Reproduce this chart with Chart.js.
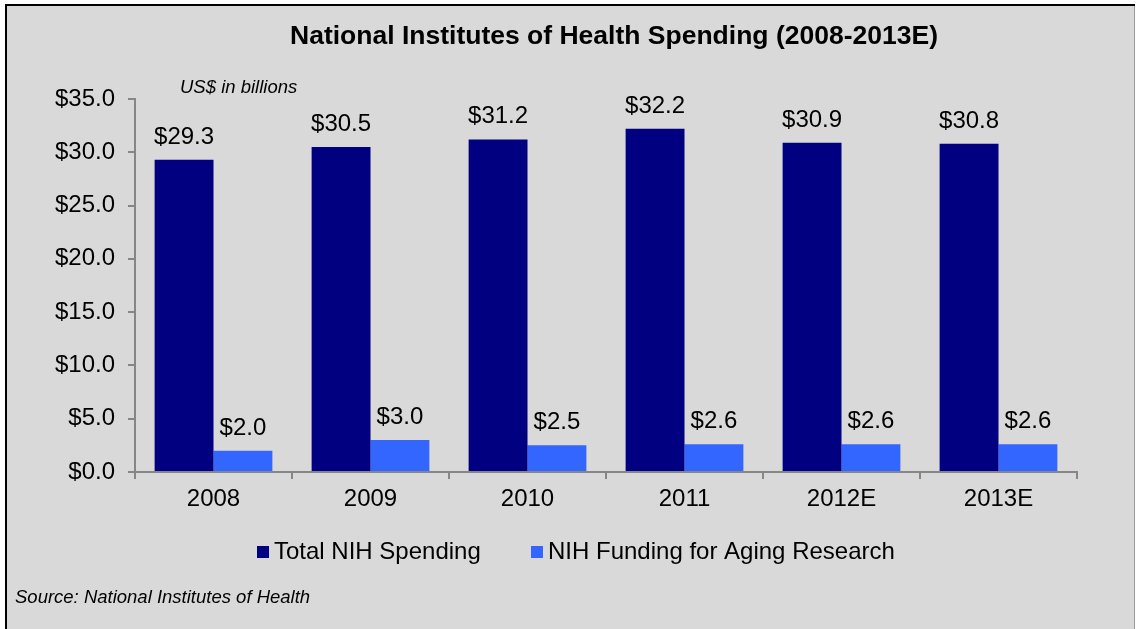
<!DOCTYPE html>
<html>
<head>
<meta charset="utf-8">
<script src="https://cdn.jsdelivr.net/npm/chart.js@4"></script>
<style>
html,body{margin:0;padding:0;background:#fff;}
#wrap{position:relative;width:1136px;height:629px;}
</style>
</head>
<body>
<div id="wrap"><canvas id="c" width="1136" height="629"></canvas></div>
<script>
const categories = ["2008", "2009", "2010", "2011", "2012E", "2013E"];
const totalNIH = [29.3, 30.5, 31.2, 32.2, 30.9, 30.8];
const agingNIH = [2.0, 3.0, 2.5, 2.6, 2.6, 2.6];
const seriesNames = ["Total NIH Spending", "NIH Funding for Aging Research"];
const seriesColors = ["#000080", "#3366FF"];
const yTicks = [0, 5, 10, 15, 20, 25, 30, 35];
const titleText = "National Institutes of Health Spending (2008-2013E)";
const unitText = "US$ in billions";
const sourceText = "Source: National Institutes of Health";

const FONT = '"Liberation Sans", Arial, Helvetica, sans-serif';

const frame = {
  id: 'frame',
  beforeDraw(chart) {
    const ctx = chart.ctx;
    ctx.save();
    ctx.fillStyle = '#ffffff';
    ctx.fillRect(0, 0, chart.width, chart.height);
    ctx.fillStyle = '#d9d9d9';
    ctx.fillRect(7, 6, 1127, 623);
    ctx.fillStyle = '#000000';
    ctx.fillRect(5, 4, 2, 625);
    ctx.fillRect(5, 4, 1130, 2);
    ctx.fillStyle = '#9a9a9a';
    ctx.fillRect(1134, 6, 1, 623);
    ctx.restore();
  },
  afterDraw(chart) {
    const ctx = chart.ctx;
    ctx.save();
    ctx.fillStyle = '#000';
    ctx.textBaseline = 'middle';
    ctx.textAlign = 'center';
    ctx.font = 'bold 26.5px ' + FONT;
    ctx.fillText(titleText, 614, 37);
    ctx.textAlign = 'left';
    ctx.font = 'italic 18.5px ' + FONT;
    ctx.fillText(unitText, 180, 88);
    ctx.fillText(sourceText, 15, 598);
    // legend
    ctx.font = '24px ' + FONT;
    const items = [{x: 257, tx: 274}, {x: 531, tx: 548}];
    items.forEach((it, i) => {
      ctx.fillStyle = seriesColors[i];
      ctx.fillRect(it.x, 546, 12, 12);
      ctx.fillStyle = '#000';
      ctx.fillText(seriesNames[i], it.tx, 552);
    });
    ctx.restore();
  }
};

const valueLabels = {
  id: 'valueLabels',
  afterDatasetsDraw(chart) {
    const ctx = chart.ctx;
    ctx.save();
    ctx.font = '24px ' + FONT;
    ctx.fillStyle = '#000';
    ctx.textAlign = 'center';
    ctx.textBaseline = 'alphabetic';
    chart.data.datasets.forEach((ds, di) => {
      const meta = chart.getDatasetMeta(di);
      meta.data.forEach((bar, i) => {
        ctx.fillText('$' + ds.data[i].toFixed(1), bar.x, bar.y - 16);
      });
    });
    ctx.restore();
  }
};

new Chart(document.getElementById('c'), {
  type: 'bar',
  data: {
    labels: categories,
    datasets: [
      {label: seriesNames[0], data: totalNIH, backgroundColor: seriesColors[0], categoryPercentage: 0.75, barPercentage: 1.0},
      {label: seriesNames[1], data: agingNIH, backgroundColor: seriesColors[1], categoryPercentage: 0.75, barPercentage: 1.0}
    ]
  },
  options: {
    responsive: false,
    animation: false,
    devicePixelRatio: 1,
    layout: {padding: {left: 0, right: 59, top: 99, bottom: 0}},
    plugins: {legend: {display: false}, title: {display: false}, tooltip: {enabled: false}},
    scales: {
      x: {
        grid: {display: true, drawOnChartArea: false, drawTicks: true, tickLength: 7, color: '#868686', lineWidth: 2, offset: true},
        border: {display: true, color: '#868686', width: 2},
        ticks: {color: '#000', font: {family: FONT, size: 24}, padding: 6, maxRotation: 0},
        afterFit(scale) { scale.height = 157; }
      },
      y: {
        min: 0, max: 35,
        afterBuildTicks(scale) { scale.ticks = yTicks.map(v => ({value: v})); },
        grid: {display: true, drawOnChartArea: false, drawTicks: true, tickLength: 7, color: '#868686', lineWidth: 2},
        border: {display: true, color: '#868686', width: 2},
        ticks: {color: '#000', font: {family: FONT, size: 24}, padding: 13, callback: v => '$' + Number(v).toFixed(1)},
        afterFit(scale) { scale.width = 135; }
      }
    }
  },
  plugins: [frame, valueLabels]
});
</script>
</body>
</html>
